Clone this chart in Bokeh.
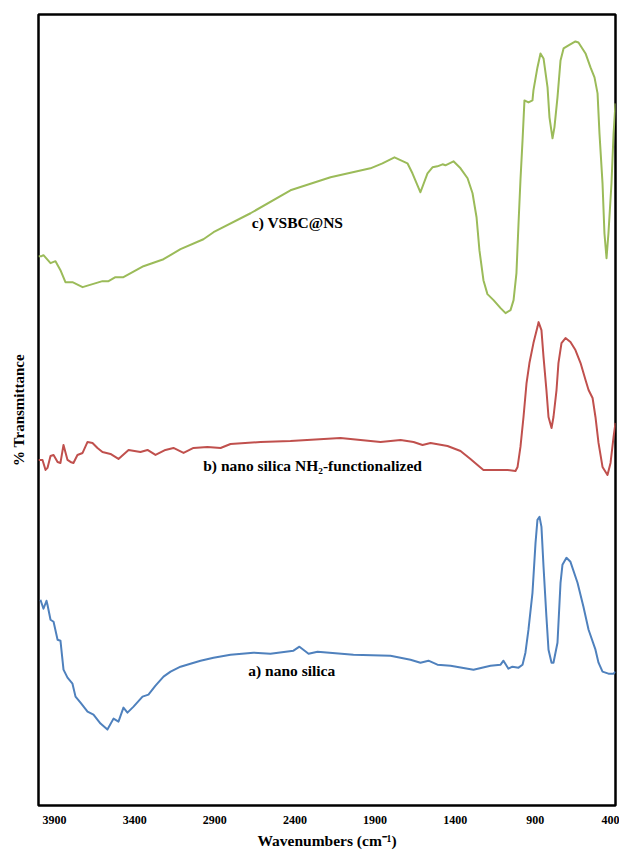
from bokeh.plotting import figure
from bokeh.models import Range1d, FixedTicker, Label
from bokeh.embed import file_html
from bokeh.resources import INLINE

# ---- data (wavenumber cm-1, relative transmittance, arbitrary offset units) ----
c_wn = [4000, 3981, 3969, 3925, 3894, 3863, 3832, 3788, 3725, 3663, 3601, 3563, 3520, 3470,
        3345, 3220, 3114, 2971, 2908, 2677, 2428, 2178, 1929, 1854, 1779, 1698, 1667, 1617,
        1573, 1542, 1511, 1479, 1461, 1411, 1367, 1323, 1292, 1267, 1249, 1224, 1199, 1161,
        1117, 1086, 1055, 1036, 1018, 1005, 993, 980, 968, 943, 918, 912, 887, 868, 849, 824,
        812, 793, 781, 762, 743, 724, 693, 650, 631, 587, 556, 531, 512, 500, 481, 469, 456,
        444, 425, 412, 400]
c_t = [550, 550, 551, 543, 545, 536, 524, 524, 519, 522, 525, 525, 529, 529,
       540, 547, 557, 567, 574, 593, 616, 629, 638, 643, 649, 643, 633, 614,
       633, 639, 640, 642, 641, 645, 638, 628, 613, 589, 556, 526, 512, 506,
       498, 493, 496, 506, 533, 583, 626, 666, 706, 704, 706, 716, 739, 753, 748, 719,
       689, 668, 679, 709, 746, 758, 761, 765, 764, 753, 739, 729, 713, 673, 623, 573, 548,
       573, 623, 673, 703]

b_wn = [4000, 3975, 3956, 3944, 3925, 3906, 3881, 3863, 3844, 3819, 3800, 3782, 3757, 3725,
        3694, 3663, 3632, 3601, 3551, 3501, 3438, 3364, 3320, 3270, 3208, 3158, 3095, 3033,
        2946, 2864, 2802, 2615, 2428, 2116, 1866, 1741, 1660, 1604, 1554, 1448, 1367, 1305,
        1261, 1224, 1136, 1074, 1024, 1011, 993, 974, 955, 937, 912, 887, 880, 862, 849, 831,
        818, 799, 787, 768, 756, 737, 712, 681, 650, 618, 587, 568, 543, 525, 506, 481, 450,
        431, 412, 400]
b_t = [346, 346, 336, 338, 350, 351, 344, 343, 361, 346, 344, 343, 351, 353,
       364, 363, 358, 354, 352, 347, 356, 354, 356, 351, 356, 358, 353, 358,
       359, 358, 362, 364, 365, 368, 364, 366, 364, 361, 363, 360, 355, 347,
       341, 336, 336, 336, 335, 339, 359, 389, 423, 443, 463, 479, 484, 476, 449, 416,
       389, 378, 389, 416, 443, 463, 468, 464, 456, 443, 426, 416, 408, 389, 363, 339, 331,
       343, 369, 383]

a_wn = [3988, 3969, 3950, 3944, 3925, 3906, 3881, 3863, 3844, 3819, 3788, 3769, 3738, 3694,
        3657, 3613, 3570, 3532, 3501, 3470, 3445, 3407, 3351, 3314, 3270, 3220, 3176, 3114,
        3052, 2989, 2908, 2802, 2659, 2553, 2409, 2372, 2315, 2259, 2035, 1804, 1679, 1617,
        1567, 1511, 1429, 1286, 1180, 1117, 1099, 1068, 1043, 1005, 980, 962, 943, 918, 899,
        887, 874, 862, 849, 831, 818, 799, 787, 762, 743, 731, 706, 681, 637, 600, 568, 525,
        506, 481, 444, 412, 400]
a_t = [206, 197, 205, 201, 186, 184, 166, 165, 136, 128, 122, 109, 103, 94,
       91, 82, 76, 87, 84, 98, 93, 99, 109, 111, 120, 129, 134, 139,
       142, 145, 148, 151, 153, 152, 155, 159, 152, 154, 151, 150, 146, 143,
       145, 141, 140, 136, 140, 141, 145, 137, 139, 138, 141, 153, 176, 213, 263,
       286, 289, 279, 239, 189, 156, 143, 143, 163, 223, 241, 248, 244, 223, 199, 176, 156,
       143, 134, 132, 132, 134]

x_ticks = [3900, 3400, 2900, 2400, 1900, 1400, 900, 400]

series_labels = ["c) VSBC@NS", "b) nano silica NH\u2082-functionalized", "a) nano silica"]
label_pos = [(2384, 584), (2290, 340), (2420, 135)]

colors = ["#9BBB59", "#C0504D", "#4F81BD"]
FONT = "Liberation Serif"

p = figure(width=619, height=851, output_backend="svg", toolbar_location=None,
           x_range=Range1d(4000, 400), y_range=Range1d(0, 792),
           min_border_left=38, min_border_right=4, min_border_top=14, min_border_bottom=0)

p.line(c_wn, c_t, line_color=colors[0], line_width=2, line_join="round")
p.line(b_wn, b_t, line_color=colors[1], line_width=2, line_join="round")
p.line(a_wn, a_t, line_color=colors[2], line_width=2, line_join="round")

for txt, (x, y) in zip(series_labels, label_pos):
    p.add_layout(Label(x=x, y=y, text=txt, text_align="center", text_baseline="middle",
                       text_font=FONT, text_font_style="bold", text_font_size="15.5px",
                       text_color="black"))

p.grid.visible = False
p.outline_line_color = "black"
p.outline_line_width = 2.5
p.background_fill_color = "white"
p.border_fill_color = "white"

xa = p.xaxis[0]
xa.ticker = FixedTicker(ticks=x_ticks)
xa.axis_line_color = None
xa.major_tick_line_color = None
xa.minor_tick_line_color = None
xa.major_label_text_font = FONT
xa.major_label_text_font_style = "bold"
xa.major_label_text_font_size = "12px"
xa.major_label_text_color = "black"
xa.major_label_standoff = 4
xa.axis_label = "Wavenumbers (cm\u207b\u00b9)"
xa.axis_label_text_font = FONT
xa.axis_label_text_font_style = "bold"
xa.axis_label_text_font_size = "15.5px"
xa.axis_label_text_color = "black"
xa.axis_label_standoff = 5

ya = p.yaxis[0]
ya.ticker = FixedTicker(ticks=[])
ya.axis_line_color = None
ya.major_tick_line_color = None
ya.minor_tick_line_color = None
ya.axis_label = "% Transmittance"
ya.axis_label_text_font = FONT
ya.axis_label_text_font_style = "bold"
ya.axis_label_text_font_size = "15px"
ya.axis_label_text_color = "black"
ya.axis_label_standoff = 12

open("out.html", "w").write(file_html(p, INLINE))
